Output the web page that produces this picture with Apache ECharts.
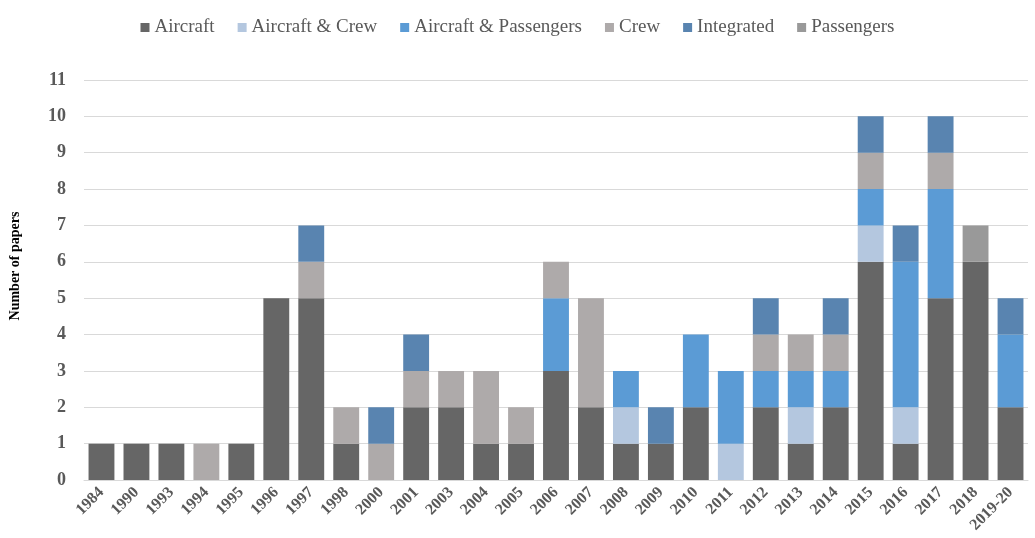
<!DOCTYPE html>
<html>
<head>
<meta charset="utf-8">
<script src="https://cdn.jsdelivr.net/npm/echarts@6/dist/echarts.min.js"></script>
<style>
  html, body { margin: 0; padding: 0; background: #fff; }
  #chart { width: 1035px; height: 538px; }
</style>
</head>
<body>
<div id="chart"></div>
<script>
// years on the x axis
const years = ['1984', '1990', '1993', '1994', '1995', '1996', '1997', '1998', '2000', '2001',
  '2003', '2004', '2005', '2006', '2007', '2008', '2009', '2010', '2011', '2012',
  '2013', '2014', '2015', '2016', '2017', '2018', '2019-20']

// papers per year, one array per topic (0 = none)
const aircraft        = [1, 1, 1, 0, 1, 5, 5, 1, 0, 2, 2, 1, 1, 3, 2, 1, 1, 2, 0, 2, 1, 2, 6, 1, 5, 6, 2]
const aircraftCrew    = [0, 0, 0, 0, 0, 0, 0, 0, 0, 0, 0, 0, 0, 0, 0, 1, 0, 0, 1, 0, 1, 0, 1, 1, 0, 0, 0]
const aircraftPass    = [0, 0, 0, 0, 0, 0, 0, 0, 0, 0, 0, 0, 0, 2, 0, 1, 0, 2, 2, 1, 1, 1, 1, 4, 3, 0, 2]
const crew            = [0, 0, 0, 1, 0, 0, 1, 1, 1, 1, 1, 2, 1, 1, 3, 0, 0, 0, 0, 1, 1, 1, 1, 0, 1, 0, 0]
const integrated      = [0, 0, 0, 0, 0, 0, 1, 0, 1, 1, 0, 0, 0, 0, 0, 0, 1, 0, 0, 1, 0, 1, 1, 1, 1, 0, 1]
const passengers      = [0, 0, 0, 0, 0, 0, 0, 0, 0, 0, 0, 0, 0, 0, 0, 0, 0, 0, 0, 0, 0, 0, 0, 0, 0, 1, 0]

const yTicks = { min: 0, max: 11, interval: 1 }

const FONT = '"Liberation Serif", "Times New Roman", serif'
const SERIES = [
  { name: 'Aircraft', data: aircraft, color: '#666666' },
  { name: 'Aircraft & Crew', data: aircraftCrew, color: '#b4c7df' },
  { name: 'Aircraft & Passengers', data: aircraftPass, color: '#5b9bd5' },
  { name: 'Crew', data: crew, color: '#aeaaaa' },
  { name: 'Integrated', data: integrated, color: '#5984b0' },
  { name: 'Passengers', data: passengers, color: '#999999' }
]

const chart = echarts.init(document.getElementById('chart'))
chart.setOption({
  animation: false,
  textStyle: { fontFamily: FONT },
  legend: {
    top: 13, left: 'center',
    itemWidth: 9, itemHeight: 9, itemGap: 23,
    icon: 'rect',
    textStyle: { fontFamily: FONT, fontSize: 19, color: '#595959' }
  },
  grid: { left: 82, right: 7, top: 80, bottom: 58 },
  xAxis: {
    type: 'category',
    data: years,
    axisLine: { lineStyle: { color: '#d9d9d9' } },
    axisTick: { show: false },
    axisLabel: {
      rotate: 45, interval: 0, margin: 10,
      fontFamily: FONT, fontSize: 16, fontWeight: 'bold', color: '#595959'
    }
  },
  yAxis: {
    type: 'value',
    ...yTicks,
    name: 'Number of papers',
    nameLocation: 'middle',
    nameGap: 62,
    nameTextStyle: { fontFamily: FONT, fontSize: 14, fontWeight: 'bold', color: '#000', padding: [0, 0, 0, 28] },
    axisLine: { show: false },
    axisTick: { show: false },
    axisLabel: { fontFamily: FONT, fontSize: 18, fontWeight: 'bold', color: '#595959', margin: 18 },
    splitLine: { lineStyle: { color: '#d9d9d9' } }
  },
  series: SERIES.map(s => ({
    name: s.name,
    type: 'bar',
    stack: 'total',
    barWidth: '74%',
    data: s.data.map(v => v === 0 ? null : v),
    itemStyle: { color: s.color }
  }))
})
</script>
</body>
</html>
